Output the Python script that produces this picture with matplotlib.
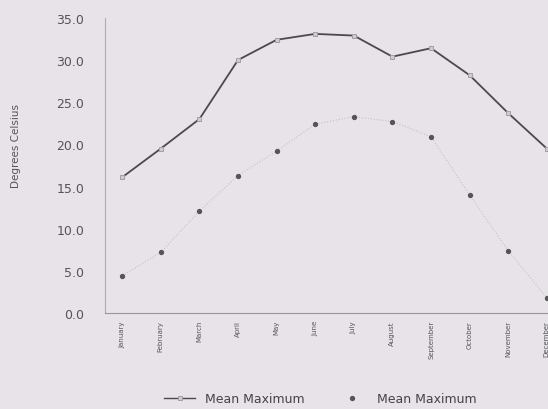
import numpy as np
import matplotlib.pyplot as plt
from matplotlib.lines import Line2D

months = ['January', 'February', 'March', 'April', 'May', 'June',
          'July', 'August', 'September', 'October', 'November', 'December']
mean_max = [16.1, 19.5, 23.0, 30.0, 32.4, 33.1, 32.9, 30.4, 31.4, 28.2, 23.7, 19.5]
mean_min = [4.4, 7.2, 12.1, 16.3, 19.2, 22.4, 23.3, 22.7, 20.9, 14.0, 7.4, 1.8]
yticks = [0, 5, 10, 15, 20, 25, 30, 35]

bg = '#e7e3e9'
fig = plt.figure(figsize=(5.48, 4.10), dpi=100, facecolor=bg)
ax = fig.add_axes([0.192, 0.234, 0.808, 0.720], facecolor=bg)

x = np.arange(len(months))
ax.plot(x, mean_max, color='#4a4a4a', lw=1.3, marker='s', ms=3.5,
        mfc='#cfcbd3', mec='#a29ea8', mew=0.7)
ax.plot(x, mean_min, color='#c4c0c8', lw=0.8, ls=':', marker='o', ms=2.8,
        mfc='#555555', mec='#555555')

ax.set_xlim(-0.44, 11.03)
ax.set_ylim(0, 35)
ax.set_yticks(yticks)
ax.set_yticklabels(['%.1f' % v for v in yticks], fontsize=9, color='#555555')
ax.set_xticks(x)
ax.set_xticklabels(months, rotation=90, fontsize=5,
                   family=['Liberation Sans Narrow', 'DejaVu Sans'], color='#555555')
ax.tick_params(length=0, pad=5)
ax.tick_params(axis='y', pad=15)

for s in ['top', 'right']:
    ax.spines[s].set_visible(False)
ax.spines['left'].set_color('#b0acb4')
ax.spines['bottom'].set_color('#9a96a0')
ax.spines['left'].set_linewidth(0.8)
ax.spines['bottom'].set_linewidth(0.8)

ax.set_ylabel('Degrees Celsius', fontsize=7.5, color='#555555')
ax.yaxis.set_label_coords(-0.19, 0.57)

handles = [
    Line2D([], [], color='#4a4a4a', lw=1.0, marker='s', ms=3.5,
           mfc='#cfcbd3', mec='#a29ea8', mew=0.7),
    Line2D([], [], ls='none', marker='o', ms=2.8, mfc='#555555', mec='#555555'),
]
fig.legend(handles, ['Mean Maximum', 'Mean Maximum'], loc='center',
           bbox_to_anchor=(0.585, 0.025), ncol=2, frameon=False,
           fontsize=9, labelcolor='#444444', handlelength=2.5,
           columnspacing=2.5, handletextpad=0.8)

fig.savefig('out.png', dpi=100, facecolor=bg)
